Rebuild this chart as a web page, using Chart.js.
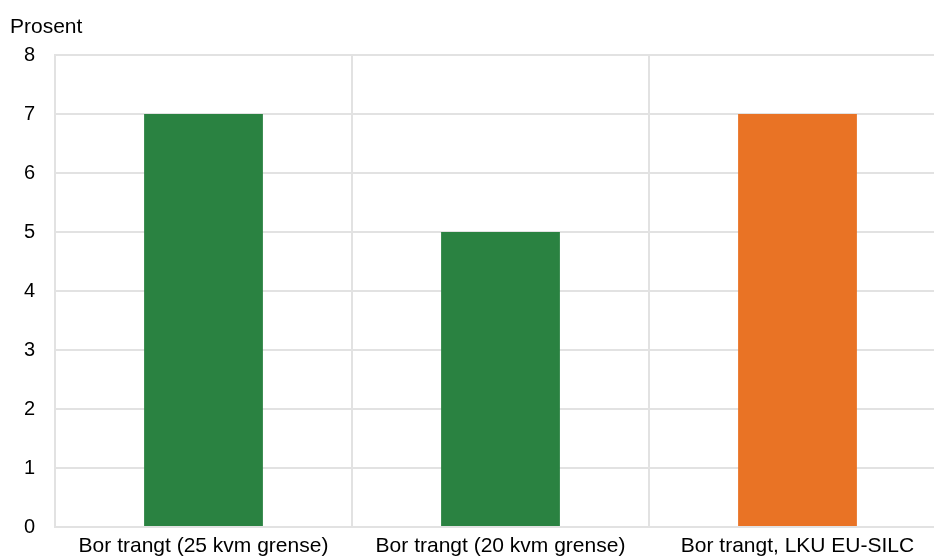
<!DOCTYPE html>
<html>
<head>
<meta charset="utf-8">
<script src="https://cdn.jsdelivr.net/npm/chart.js@4.4.1/dist/chart.umd.min.js"></script>
<style>
  html, body { margin: 0; padding: 0; background: #fff; overflow: hidden; }
  #wrap { width: 934px; height: 559px; overflow: hidden; position: relative; }
  canvas { display: block; position: absolute; left: 0; top: 0; }
</style>
</head>
<body>
<div id="wrap"><canvas id="c" width="960" height="559"></canvas></div>
<script>
// Andel som bor trangt, prosent
const categories = ['Bor trangt (25 kvm grense)', 'Bor trangt (20 kvm grense)', 'Bor trangt, LKU EU-SILC'];
const values = [7, 5, 7];
const barColors = ['#2a8241', '#2a8241', '#e97325'];
const yTicks = [0, 1, 2, 3, 4, 5, 6, 7, 8];
const unitLabel = 'Prosent';

const FONT = "'Liberation Sans', Arial, sans-serif";
const GRID = '#e2e2e2';

// Unit label above the value axis
const unitPlugin = {
  id: 'unitLabel',
  afterDraw(chart) {
    const ctx = chart.ctx;
    ctx.save();
    ctx.font = '21px ' + FONT;
    ctx.fillStyle = '#000';
    ctx.textAlign = 'left';
    ctx.textBaseline = 'alphabetic';
    ctx.fillText(unitLabel, 10, 33);
    ctx.restore();
  }
};

new Chart(document.getElementById('c'), {
  type: 'bar',
  data: {
    labels: categories,
    datasets: [{
      data: values,
      backgroundColor: barColors,
      borderWidth: 0,
      barPercentage: 0.4,
      categoryPercentage: 1.0
    }]
  },
  options: {
    responsive: false,
    maintainAspectRatio: false,
    animation: false,
    devicePixelRatio: 1,
    // category labels run off the lower edge, so the bottom padding is negative
    layout: { padding: { top: 55, right: 14, bottom: -12, left: 0 } },
    plugins: {
      legend: { display: false },
      tooltip: { enabled: false }
    },
    scales: {
      x: {
        grid: { color: GRID, lineWidth: 2, drawTicks: false, offset: true },
        border: { color: GRID, width: 2 },
        ticks: { color: '#000', font: { family: FONT, size: 21 }, padding: 7, maxRotation: 0, autoSkip: false }
      },
      y: {
        min: 0,
        max: 8,
        afterBuildTicks(scale) { scale.ticks = yTicks.map(v => ({ value: v })); },
        grid: { color: GRID, lineWidth: 2, drawTicks: false },
        border: { color: GRID, width: 2 },
        ticks: { color: '#000', font: { family: FONT, size: 20 }, padding: 20 },
        afterFit(scale) { scale.width = 55; }
      }
    }
  },
  plugins: [unitPlugin]
});
</script>
</body>
</html>
